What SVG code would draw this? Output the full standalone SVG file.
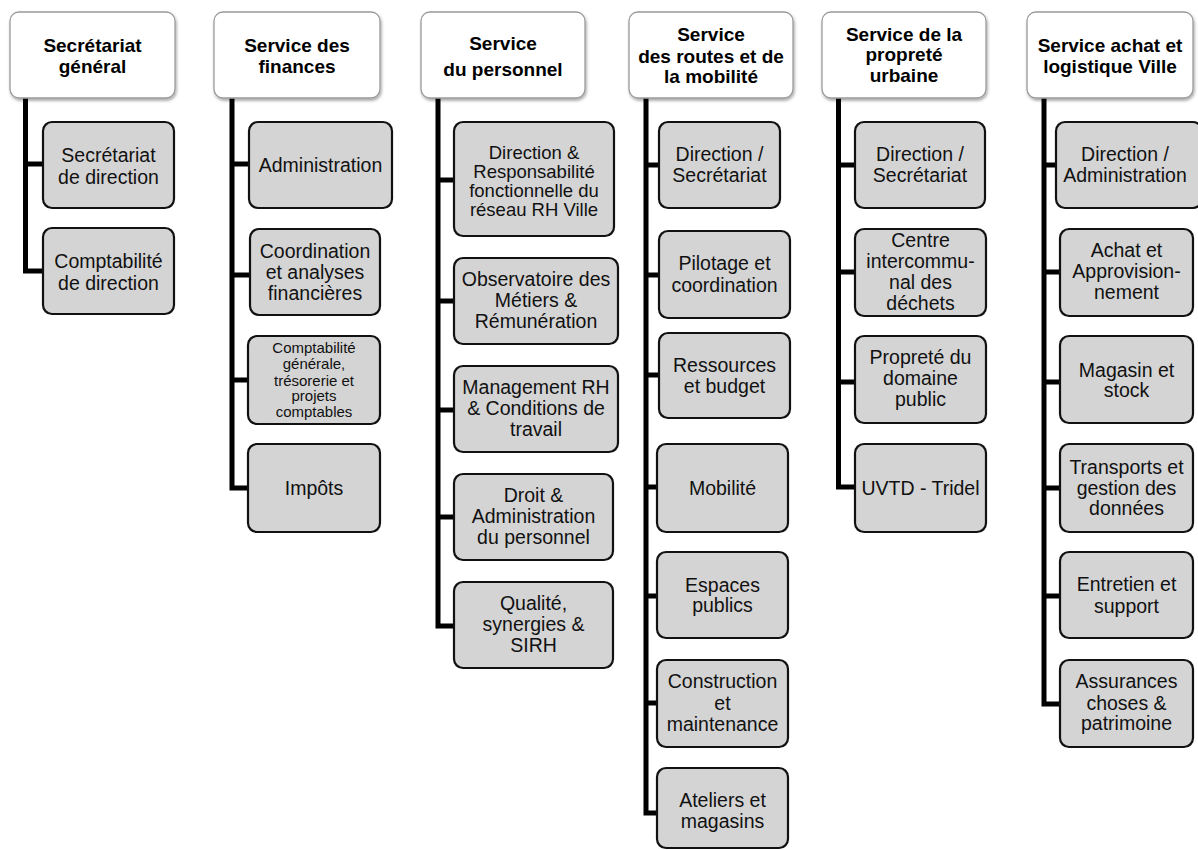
<svg xmlns="http://www.w3.org/2000/svg" width="1198" height="850" viewBox="0 0 1198 850">
<defs>
<filter id="sh" x="-10%" y="-10%" width="125%" height="135%">
<feDropShadow dx="1" dy="2" stdDeviation="1.8" flood-color="#000" flood-opacity="0.35"/>
</filter>
<style>
.hd{fill:#fff;stroke:#9a9a9a;stroke-width:1.3;filter:url(#sh)}
.ch{fill:#d4d4d4;stroke:#111;stroke-width:2.2}
.ht{font-family:"Liberation Sans",Arial,sans-serif;font-weight:bold;font-size:19px;fill:#000;text-anchor:middle}
.ct{font-family:"Liberation Sans",Arial,sans-serif;font-size:19.5px;fill:#111;text-anchor:middle}
.sm{font-size:15px}
.md{font-size:18.5px}
.cn{fill:none;stroke:#000;stroke-width:5}
</style>
</defs>
<rect width="1198" height="850" fill="#fff"/>

<g id="connectors">
<path class="cn" d="M25.5 98V271M23 164H43M23 271H43"/>
<path class="cn" d="M232 98V488M229.5 164H249M229.5 275H250M229.5 380H248M229.5 488H248"/>
<path class="cn" d="M438 98V626M435.5 180H454M435.5 301H454M435.5 410H454M435.5 517H454M435.5 626H454"/>
<path class="cn" d="M646 98V813M643.5 165H659M643.5 275H659M643.5 375H659M643.5 487H657M643.5 596H657M643.5 703H657M643.5 813H657"/>
<path class="cn" d="M838.5 98V487M836 165H855M836 272H855M836 382H855M836 487H855"/>
<path class="cn" d="M1044 98V704M1041.5 165H1056M1041.5 272H1060M1041.5 382H1060M1041.5 488H1060M1041.5 596H1060M1041.5 704H1060"/>
</g>

<!-- Column 1 -->
<g id="h1"><rect class="hd" x="10" y="12" width="165" height="86" rx="9"/>
<text class="ht"><tspan x="92.5" y="51.5">Secrétariat</tspan><tspan x="92.5" y="72.5">général</tspan></text></g>
<g id="c1a"><rect class="ch" x="43" y="122" width="131" height="86" rx="9"/>
<text class="ct"><tspan x="108.5" y="161.5">Secrétariat</tspan><tspan x="108.5" y="183.5">de direction</tspan></text></g>
<g id="c1b"><rect class="ch" x="43" y="228" width="131" height="86" rx="9"/>
<text class="ct"><tspan x="108.5" y="268">Comptabilité</tspan><tspan x="108.5" y="289.5">de direction</tspan></text></g>

<!-- Column 2 -->
<g id="h2"><rect class="hd" x="214" y="12" width="166" height="86" rx="9"/>
<text class="ht"><tspan x="297" y="52">Service des</tspan><tspan x="297" y="73">finances</tspan></text></g>
<g id="c2a"><rect class="ch" x="249" y="122" width="143" height="86" rx="9"/>
<text class="ct"><tspan x="320.5" y="172">Administration</tspan></text></g>
<g id="c2b"><rect class="ch" x="250" y="229" width="130" height="86" rx="9"/>
<text class="ct"><tspan x="315" y="258">Coordination</tspan><tspan x="315" y="279">et analyses</tspan><tspan x="315" y="300">financières</tspan></text></g>
<g id="c2c"><rect class="ch" x="248" y="336" width="132" height="88" rx="9"/>
<text class="ct sm"><tspan x="314" y="353">Comptabilité</tspan><tspan x="314" y="369">générale,</tspan><tspan x="314" y="385.5">trésorerie et</tspan><tspan x="314" y="401">projets</tspan><tspan x="314" y="417">comptables</tspan></text></g>
<g id="c2d"><rect class="ch" x="248" y="444" width="132" height="88" rx="9"/>
<text class="ct"><tspan x="314" y="495">Impôts</tspan></text></g>

<!-- Column 3 -->
<g id="h3"><rect class="hd" x="421" y="12" width="164" height="86" rx="9"/>
<text class="ht"><tspan x="503" y="50">Service</tspan><tspan x="503" y="76">du personnel</tspan></text></g>
<g id="c3a"><rect class="ch" x="454" y="122" width="160" height="114" rx="9"/>
<text class="ct md"><tspan x="534" y="159">Direction &amp;</tspan><tspan x="534" y="178">Responsabilité</tspan><tspan x="534" y="197">fonctionnelle du</tspan><tspan x="534" y="216">réseau RH Ville</tspan></text></g>
<g id="c3b"><rect class="ch" x="454" y="258" width="164" height="86" rx="9"/>
<text class="ct"><tspan x="536" y="286">Observatoire des</tspan><tspan x="536" y="307">Métiers &amp;</tspan><tspan x="536" y="328">Rémunération</tspan></text></g>
<g id="c3c"><rect class="ch" x="454" y="366" width="164" height="86" rx="9"/>
<text class="ct"><tspan x="536" y="394">Management RH</tspan><tspan x="536" y="415">&amp; Conditions de</tspan><tspan x="536" y="436">travail</tspan></text></g>
<g id="c3d"><rect class="ch" x="454" y="474" width="159" height="86" rx="9"/>
<text class="ct"><tspan x="533.5" y="502">Droit &amp;</tspan><tspan x="533.5" y="523">Administration</tspan><tspan x="533.5" y="544">du personnel</tspan></text></g>
<g id="c3e"><rect class="ch" x="454" y="582" width="159" height="86" rx="9"/>
<text class="ct"><tspan x="533.5" y="610">Qualité,</tspan><tspan x="533.5" y="631">synergies &amp;</tspan><tspan x="533.5" y="652">SIRH</tspan></text></g>

<!-- Column 4 -->
<g id="h4"><rect class="hd" x="629" y="12" width="164" height="86" rx="9"/>
<text class="ht"><tspan x="711" y="41">Service</tspan><tspan x="711" y="63">des routes et de</tspan><tspan x="711" y="83">la mobilité</tspan></text></g>
<g id="c4a"><rect class="ch" x="659" y="122" width="121" height="86" rx="9"/>
<text class="ct"><tspan x="719.5" y="160.5">Direction /</tspan><tspan x="719.5" y="182">Secrétariat</tspan></text></g>
<g id="c4b"><rect class="ch" x="659" y="231" width="131" height="87" rx="9"/>
<text class="ct"><tspan x="724.5" y="270">Pilotage et</tspan><tspan x="724.5" y="291.5">coordination</tspan></text></g>
<g id="c4c"><rect class="ch" x="659" y="333" width="131" height="85" rx="9"/>
<text class="ct"><tspan x="724.5" y="371.5">Ressources</tspan><tspan x="724.5" y="392.5">et budget</tspan></text></g>
<g id="c4d"><rect class="ch" x="657" y="444" width="131" height="88" rx="9"/>
<text class="ct"><tspan x="722.5" y="494.5">Mobilité</tspan></text></g>
<g id="c4e"><rect class="ch" x="657" y="552" width="131" height="86" rx="9"/>
<text class="ct"><tspan x="722.5" y="591.5">Espaces</tspan><tspan x="722.5" y="612">publics</tspan></text></g>
<g id="c4f"><rect class="ch" x="657" y="660" width="131" height="87" rx="9"/>
<text class="ct"><tspan x="722.5" y="688">Construction</tspan><tspan x="722.5" y="709.5">et</tspan><tspan x="722.5" y="731">maintenance</tspan></text></g>
<g id="c4g"><rect class="ch" x="657" y="768" width="131" height="80" rx="9"/>
<text class="ct"><tspan x="722.5" y="806.5">Ateliers et</tspan><tspan x="722.5" y="828">magasins</tspan></text></g>

<!-- Column 5 -->
<g id="h5"><rect class="hd" x="822" y="12" width="164" height="86" rx="9"/>
<text class="ht"><tspan x="904" y="41">Service de la</tspan><tspan x="904" y="61">propreté</tspan><tspan x="904" y="82">urbaine</tspan></text></g>
<g id="c5a"><rect class="ch" x="855" y="122" width="130" height="86" rx="9"/>
<text class="ct"><tspan x="920" y="160.5">Direction /</tspan><tspan x="920" y="182">Secrétariat</tspan></text></g>
<g id="c5b"><rect class="ch" x="855" y="229" width="131" height="87" rx="9"/>
<text class="ct"><tspan x="920.5" y="247">Centre</tspan><tspan x="920.5" y="268">intercommu-</tspan><tspan x="920.5" y="289">nal des</tspan><tspan x="920.5" y="310">déchets</tspan></text></g>
<g id="c5c"><rect class="ch" x="855" y="336" width="131" height="87" rx="9"/>
<text class="ct"><tspan x="920.5" y="364">Propreté du</tspan><tspan x="920.5" y="385">domaine</tspan><tspan x="920.5" y="406">public</tspan></text></g>
<g id="c5d"><rect class="ch" x="855" y="444" width="131" height="88" rx="9"/>
<text class="ct"><tspan x="920.5" y="495">UVTD - Tridel</tspan></text></g>

<!-- Column 6 -->
<g id="h6"><rect class="hd" x="1027" y="12" width="166" height="86" rx="9"/>
<text class="ht"><tspan x="1110" y="52">Service achat et</tspan><tspan x="1110" y="73">logistique Ville</tspan></text></g>
<g id="c6a"><rect class="ch" x="1056" y="122" width="146" height="86" rx="9"/>
<text class="ct"><tspan x="1125" y="160.5">Direction /</tspan><tspan x="1125" y="182">Administration</tspan></text></g>
<g id="c6b"><rect class="ch" x="1060" y="229" width="133" height="87" rx="9"/>
<text class="ct"><tspan x="1126.5" y="257">Achat et</tspan><tspan x="1126.5" y="278">Approvision-</tspan><tspan x="1126.5" y="299">nement</tspan></text></g>
<g id="c6c"><rect class="ch" x="1060" y="336" width="133" height="87" rx="9"/>
<text class="ct"><tspan x="1126.5" y="376.5">Magasin et</tspan><tspan x="1126.5" y="397">stock</tspan></text></g>
<g id="c6d"><rect class="ch" x="1060" y="444" width="133" height="88" rx="9"/>
<text class="ct"><tspan x="1126.5" y="473.5">Transports et</tspan><tspan x="1126.5" y="494.5">gestion des</tspan><tspan x="1126.5" y="515">données</tspan></text></g>
<g id="c6e"><rect class="ch" x="1060" y="552" width="133" height="86" rx="9"/>
<text class="ct"><tspan x="1126.5" y="591">Entretien et</tspan><tspan x="1126.5" y="612.5">support</tspan></text></g>
<g id="c6f"><rect class="ch" x="1060" y="660" width="133" height="87" rx="9"/>
<text class="ct"><tspan x="1126.5" y="688">Assurances</tspan><tspan x="1126.5" y="709.5">choses &amp;</tspan><tspan x="1126.5" y="730">patrimoine</tspan></text></g>
</svg>
